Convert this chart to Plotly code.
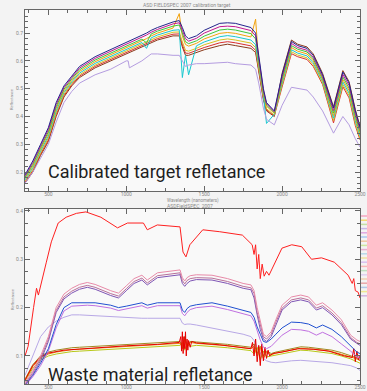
import plotly.graph_objects as go

# ---------------- Top panel: calibration target spectra ----------------
TOP_WL = [350, 400, 450, 500, 550, 600, 650, 700, 800, 900,
          1000, 1100, 1130, 1160, 1200, 1300, 1340, 1360, 1380, 1400,
          1450, 1500, 1600, 1650, 1700, 1800, 1830, 1850, 1880, 1900,
          1950, 2000, 2060, 2100, 2160, 2200, 2260, 2330, 2390, 2430,
          2470, 2500]

top_navy = [0.19, 0.24, 0.30, 0.36, 0.45, 0.51, 0.545, 0.58, 0.615, 0.64,
            0.665, 0.69, 0.70, 0.71, 0.72, 0.74, 0.745, 0.72, 0.69, 0.68,
            0.69, 0.71, 0.735, 0.737, 0.735, 0.72, 0.70, 0.62, 0.50, 0.45,
            0.42, 0.55, 0.67, 0.655, 0.645, 0.62, 0.55, 0.43, 0.56, 0.52,
            0.42, 0.36]
top_magenta = [0.186, 0.234, 0.294, 0.353, 0.443, 0.504, 0.540, 0.574, 0.609, 0.634,
               0.659, 0.684, 0.693, 0.703, 0.713, 0.733, 0.737, 0.71, 0.68, 0.671,
               0.681, 0.70, 0.723, 0.725, 0.723, 0.709, 0.69, 0.611, 0.494, 0.446,
               0.417, 0.543, 0.663, 0.648, 0.638, 0.613, 0.544, 0.421, 0.551, 0.511,
               0.411, 0.353]
top_green = [0.181, 0.228, 0.288, 0.345, 0.435, 0.498, 0.535, 0.568, 0.603, 0.628,
             0.653, 0.678, 0.665, 0.697, 0.707, 0.725, 0.729, 0.699, 0.669, 0.662,
             0.672, 0.689, 0.711, 0.714, 0.711, 0.698, 0.679, 0.602, 0.488, 0.441,
             0.414, 0.535, 0.655, 0.642, 0.632, 0.607, 0.538, 0.412, 0.542, 0.502,
             0.402, 0.345]
top_orange = [0.177, 0.222, 0.282, 0.338, 0.428, 0.492, 0.529, 0.562, 0.597, 0.622,
              0.647, 0.672, 0.680, 0.690, 0.700, 0.718, 0.77, 0.689, 0.659, 0.653,
              0.663, 0.679, 0.699, 0.702, 0.699, 0.686, 0.75, 0.593, 0.482, 0.437,
              0.411, 0.528, 0.648, 0.635, 0.625, 0.600, 0.532, 0.403, 0.533, 0.493,
              0.393, 0.338]
top_cyan = [0.172, 0.216, 0.276, 0.33, 0.42, 0.486, 0.524, 0.556, 0.591, 0.616,
            0.641, 0.666, 0.645, 0.683, 0.693, 0.71, 0.712, 0.54, 0.62, 0.55,
            0.654, 0.668, 0.687, 0.691, 0.687, 0.675, 0.658, 0.584, 0.476, 0.375,
            0.408, 0.52, 0.64, 0.628, 0.618, 0.593, 0.526, 0.394, 0.524, 0.484,
            0.384, 0.33]
top_gold = [0.168, 0.21, 0.27, 0.323, 0.413, 0.48, 0.519, 0.55, 0.585, 0.61,
            0.635, 0.66, 0.666, 0.676, 0.686, 0.703, 0.704, 0.668, 0.638, 0.635,
            0.645, 0.658, 0.675, 0.679, 0.675, 0.664, 0.648, 0.575, 0.47, 0.428,
            0.405, 0.513, 0.633, 0.621, 0.611, 0.586, 0.52, 0.385, 0.515, 0.475,
            0.375, 0.323]
top_red = [0.164, 0.205, 0.265, 0.316, 0.406, 0.475, 0.514, 0.545, 0.58, 0.605,
           0.63, 0.655, 0.66, 0.67, 0.68, 0.696, 0.697, 0.658, 0.628, 0.627,
           0.637, 0.648, 0.665, 0.669, 0.665, 0.654, 0.638, 0.567, 0.465, 0.424,
           0.402, 0.506, 0.626, 0.615, 0.605, 0.58, 0.515, 0.377, 0.507, 0.467,
           0.367, 0.316]
top_brown = [0.16, 0.20, 0.26, 0.31, 0.40, 0.47, 0.51, 0.54, 0.575, 0.60,
             0.625, 0.65, 0.655, 0.665, 0.675, 0.69, 0.69, 0.65, 0.62, 0.62,
             0.63, 0.64, 0.655, 0.66, 0.655, 0.645, 0.63, 0.56, 0.46, 0.42,
             0.40, 0.555, 0.675, 0.66, 0.65, 0.625, 0.555, 0.435, 0.565, 0.525,
             0.425, 0.365]

TOP_LAV_WL = [350, 400, 450, 500, 550, 600, 650, 700, 800, 900,
              1000, 1012, 1020, 1050, 1100, 1160, 1200, 1300, 1340, 1360,
              1380, 1400, 1450, 1500, 1600, 1650, 1700, 1800, 1830, 1850,
              1880, 1900, 1950, 2000, 2060, 2100, 2160, 2200, 2260, 2330,
              2390, 2430, 2470, 2500]
top_lavender = [0.16, 0.20, 0.25, 0.30, 0.38, 0.45, 0.49, 0.52, 0.55, 0.57,
                0.60, 0.60, 0.575, 0.585, 0.60, 0.625, 0.625, 0.62, 0.62, 0.60,
                0.58, 0.585, 0.59, 0.59, 0.595, 0.595, 0.59, 0.585, 0.57, 0.52,
                0.43, 0.39, 0.37, 0.44, 0.505, 0.50, 0.495, 0.47, 0.42, 0.34,
                0.40, 0.37, 0.32, 0.29]

# ---------------- Bottom panel: waste material spectra ----------------
R1_WL = [350, 370, 405, 424, 436, 455, 487, 519, 563, 614,
         680, 741, 837, 944, 1008, 1110, 1135, 1199, 1300, 1345,
         1364, 1383, 1408, 1491, 1600, 1745, 1808, 1820, 1830, 1840,
         1850, 1860, 1872, 1885, 1900, 1916, 1999, 2062, 2126, 2189,
         2253, 2335, 2424, 2450, 2460, 2470, 2488, 2500]
bot_red_top = [0.10, 0.12, 0.20, 0.24, 0.226, 0.253, 0.294, 0.336, 0.375, 0.387,
               0.395, 0.398, 0.387, 0.365, 0.375, 0.375, 0.361, 0.371, 0.369, 0.367,
               0.315, 0.305, 0.33, 0.361, 0.357, 0.35, 0.33, 0.31, 0.33, 0.28,
               0.31, 0.26, 0.29, 0.265, 0.275, 0.267, 0.323, 0.33, 0.326, 0.30,
               0.303, 0.294, 0.267, 0.25, 0.26, 0.235, 0.232, 0.22]

BOT_WL = [350, 400, 450, 500, 550, 600, 650, 700, 750, 800,
          900, 950, 1000, 1050, 1100, 1135, 1200, 1300, 1345, 1360,
          1375, 1390, 1410, 1450, 1550, 1650, 1750, 1800, 1820, 1840,
          1860, 1880, 1900, 1930, 1960, 2000, 2060, 2120, 2170, 2220,
          2260, 2320, 2380, 2440, 2480, 2500]
bot_pink = [0.045, 0.07, 0.10, 0.14, 0.20, 0.228, 0.24, 0.248, 0.252, 0.248,
            0.235, 0.23, 0.245, 0.26, 0.267, 0.257, 0.272, 0.276, 0.278, 0.262,
            0.255, 0.262, 0.266, 0.268, 0.267, 0.26, 0.25, 0.247, 0.235, 0.20,
            0.17, 0.145, 0.14, 0.15, 0.175, 0.205, 0.222, 0.226, 0.222, 0.205,
            0.21, 0.195, 0.175, 0.143, 0.133, 0.13]
bot_mauve = [0.042, 0.066, 0.095, 0.135, 0.194, 0.222, 0.234, 0.242, 0.246, 0.242,
             0.229, 0.224, 0.239, 0.254, 0.261, 0.251, 0.266, 0.27, 0.272, 0.256,
             0.249, 0.256, 0.26, 0.262, 0.261, 0.254, 0.244, 0.241, 0.229, 0.19,
             0.163, 0.14, 0.135, 0.145, 0.17, 0.199, 0.216, 0.22, 0.216, 0.199,
             0.204, 0.189, 0.169, 0.138, 0.128, 0.125]
bot_purple = [0.04, 0.062, 0.09, 0.13, 0.19, 0.218, 0.23, 0.238, 0.242, 0.238,
              0.225, 0.22, 0.235, 0.25, 0.257, 0.247, 0.262, 0.266, 0.268, 0.25,
              0.244, 0.25, 0.255, 0.258, 0.257, 0.25, 0.24, 0.237, 0.22, 0.185,
              0.155, 0.135, 0.13, 0.14, 0.165, 0.195, 0.212, 0.216, 0.212, 0.195,
              0.2, 0.185, 0.165, 0.135, 0.126, 0.122]
bot_blue = [0.04, 0.06, 0.085, 0.115, 0.165, 0.2, 0.21, 0.21, 0.211, 0.21,
            0.205, 0.2, 0.203, 0.207, 0.21, 0.205, 0.21, 0.21, 0.21, 0.195,
            0.19, 0.198, 0.203, 0.206, 0.21, 0.203, 0.195, 0.19, 0.18, 0.16,
            0.145, 0.13, 0.128, 0.135, 0.145, 0.158, 0.17, 0.169, 0.166, 0.158,
            0.164, 0.155, 0.14, 0.122, 0.108, 0.105]
bot_violet = [0.038, 0.057, 0.08, 0.11, 0.158, 0.193, 0.203, 0.204, 0.205, 0.204,
              0.199, 0.194, 0.197, 0.201, 0.204, 0.199, 0.204, 0.204, 0.204, 0.188,
              0.183, 0.19, 0.196, 0.2, 0.203, 0.196, 0.188, 0.183, 0.172, 0.15,
              0.133, 0.118, 0.115, 0.12, 0.13, 0.143, 0.155, 0.154, 0.151, 0.143,
              0.149, 0.14, 0.125, 0.11, 0.098, 0.095]
bot_lavender = [0.06, 0.10, 0.14, 0.16, 0.172, 0.18, 0.185, 0.185, 0.184, 0.183,
                0.181, 0.18, 0.18, 0.179, 0.178, 0.178, 0.178, 0.178, 0.178, 0.168,
                0.165, 0.166, 0.166, 0.164, 0.158, 0.152, 0.145, 0.14, 0.132, 0.118,
                0.105, 0.095, 0.09, 0.087, 0.086, 0.088, 0.09, 0.091, 0.09, 0.088,
                0.088, 0.086, 0.083, 0.08, 0.075, 0.07]
bot_orange = [0.05, 0.078, 0.096, 0.104, 0.108, 0.111, 0.113, 0.114, 0.115, 0.116,
              0.118, 0.119, 0.12, 0.121, 0.122, 0.122, 0.123, 0.125, 0.126, 0.12,
              0.135, 0.118, 0.128, 0.126, 0.124, 0.121, 0.117, 0.115, 0.12, 0.1,
              0.118, 0.095, 0.108, 0.102, 0.106, 0.108, 0.112, 0.116, 0.115, 0.113,
              0.112, 0.109, 0.104, 0.098, 0.094, 0.09]
bot_yellowgreen = [0.048, 0.074, 0.092, 0.1, 0.104, 0.107, 0.109, 0.11, 0.111, 0.112,
                   0.114, 0.115, 0.116, 0.117, 0.118, 0.118, 0.119, 0.121, 0.122, 0.128,
                   0.112, 0.125, 0.12, 0.122, 0.12, 0.117, 0.113, 0.111, 0.104, 0.118,
                   0.092, 0.11, 0.098, 0.1, 0.102, 0.104, 0.108, 0.112, 0.111, 0.109,
                   0.108, 0.105, 0.1, 0.094, 0.088, 0.085]
bot_olive = [0.052, 0.082, 0.1, 0.108, 0.112, 0.115, 0.117, 0.118, 0.119, 0.12,
             0.122, 0.123, 0.124, 0.125, 0.126, 0.126, 0.127, 0.129, 0.13, 0.115,
             0.14, 0.122, 0.13, 0.129, 0.127, 0.124, 0.12, 0.118, 0.125, 0.105,
             0.12, 0.1, 0.11, 0.105, 0.108, 0.111, 0.115, 0.119, 0.118, 0.116,
             0.115, 0.112, 0.107, 0.101, 0.096, 0.093]

R2_WL = [350, 400, 450, 500, 600, 800, 1000, 1200, 1300, 1340,
         1350, 1355, 1360, 1365, 1370, 1375, 1380, 1385, 1390, 1395,
         1400, 1410, 1420, 1450, 1600, 1750, 1800, 1810, 1820, 1830,
         1840, 1850, 1860, 1870, 1880, 1890, 1900, 1910, 1920, 1940,
         1960, 2000, 2100, 2200, 2300, 2400, 2450, 2460, 2470, 2480,
         2490, 2500]
bot_red_low = [0.05, 0.08, 0.098, 0.106, 0.112, 0.117, 0.121, 0.124, 0.126, 0.128,
               0.14, 0.11, 0.15, 0.105, 0.14, 0.115, 0.15, 0.1, 0.135, 0.112,
               0.132, 0.118, 0.13, 0.127, 0.123, 0.117, 0.115, 0.128, 0.1, 0.135,
               0.088, 0.122, 0.08, 0.125, 0.09, 0.118, 0.095, 0.112, 0.1, 0.105,
               0.106, 0.108, 0.115, 0.114, 0.11, 0.1, 0.097, 0.115, 0.088, 0.11,
               0.092, 0.1]

X_TICKS = [500, 1000, 1500, 2000, 2500]

fig = go.Figure()

top_series = [
    ("brown", TOP_WL, top_brown, "#8a3a1a"),
    ("red", TOP_WL, top_red, "#d83030"),
    ("gold", TOP_WL, top_gold, "#d8c020"),
    ("cyan", TOP_WL, top_cyan, "#18c8d0"),
    ("orange", TOP_WL, top_orange, "#f2a20c"),
    ("green", TOP_WL, top_green, "#3cc83c"),
    ("magenta", TOP_WL, top_magenta, "#c2188f"),
    ("navy", TOP_WL, top_navy, "#24248c"),
    ("lavender", TOP_LAV_WL, top_lavender, "#b49ce0"),
]
for name, xs, ys, col in top_series:
    fig.add_trace(go.Scatter(x=xs, y=ys, mode="lines", name=name,
                             line=dict(color=col, width=1), showlegend=False,
                             xaxis="x", yaxis="y"))

bot_series = [
    ("lavender", BOT_WL, bot_lavender, "#b8a8e6"),
    ("olive", BOT_WL, bot_olive, "#a08a20"),
    ("yellowgreen", BOT_WL, bot_yellowgreen, "#b8c818"),
    ("orange", BOT_WL, bot_orange, "#e88a10"),
    ("red_low", R2_WL, bot_red_low, "#e80000"),
    ("violet", BOT_WL, bot_violet, "#c070e0"),
    ("blue", BOT_WL, bot_blue, "#2050d0"),
    ("purple", BOT_WL, bot_purple, "#7f55b5"),
    ("mauve", BOT_WL, bot_mauve, "#b8709a"),
    ("pink", BOT_WL, bot_pink, "#e88aa8"),
    ("red_top", R1_WL, bot_red_top, "#ff2020"),
]
for name, xs, ys, col in bot_series:
    fig.add_trace(go.Scatter(x=xs, y=ys, mode="lines", name=name,
                             line=dict(color=col, width=1), showlegend=False,
                             xaxis="x2", yaxis="y2"))

# plot area geometry (pixels): left 25, right 360, top 10, bottom 384
BOTTOM_PX = 384.0
AREA_H = BOTTOM_PX - 10.0

def py(p):
    return (BOTTOM_PX - p) / AREA_H

def px(p):
    return (p - 25) / 335.0

axis_common = dict(showline=True, linecolor="#666", linewidth=1, mirror="ticks",
                   ticks="inside", ticklen=5, tickwidth=1, tickcolor="#666",
                   showgrid=False, zeroline=False,
                   tickfont=dict(size=5, color="#888", family="Roboto"))

fig.update_layout(
    width=367, height=391,
    margin=dict(l=25, r=7, t=10, b=391 - int(BOTTOM_PX), autoexpand=False),
    paper_bgcolor="#f3f3f3", plot_bgcolor="#f9f9f9",
    showlegend=False,
    xaxis=dict(domain=[0, 1], anchor="y", range=[350, 2500], tickvals=X_TICKS,
               ticklabelstandoff=-2,
               minor=dict(dtick=125, ticklen=3, tickcolor="#666", ticks="inside"),
               **axis_common),
    yaxis=dict(domain=[py(191), 1.0], anchor="x", range=[0.132, 0.783], dtick=0.1,
               tick0=0.0, tickformat=".1f",
               minor=dict(dtick=0.02, ticklen=3, tickcolor="#666", ticks="inside"),
               **axis_common),
    xaxis2=dict(domain=[0, 1], anchor="y2", range=[350, 2500], tickvals=X_TICKS,
                ticklabelstandoff=-2,
                minor=dict(dtick=125, ticklen=3, tickcolor="#666", ticks="inside"),
                **axis_common),
    yaxis2=dict(domain=[0, py(209)], anchor="x2", range=[0.042, 0.404], dtick=0.1,
                tick0=0.0, tickformat=".1f",
                minor=dict(dtick=0.025, ticklen=3, tickcolor="#666", ticks="inside"),
                **axis_common),
)

small = dict(family="Roboto", color="#8a8a8a")
annotations = [
    dict(text="ASD FIELDSPEC 2007 calibration target", x=px(187), y=py(5),
         font=dict(size=5, **small)),
    dict(text="Wavelength (nanometers)", x=px(193), y=py(200),
         font=dict(size=4.5, **small)),
    dict(text="ASDFieldSPEC_2007", x=px(190), y=py(205.5),
         font=dict(size=5, **small)),
    dict(text="Reflectance", x=px(12), y=py(100), textangle=-90,
         font=dict(size=4, **small)),
    dict(text="Reflectance", x=px(12), y=py(300), textangle=-90,
         font=dict(size=4, **small)),
    dict(text="Calibrated target refletance", x=px(46), y=py(172), xanchor="left",
         font=dict(size=18, family="Roboto", color="#1e1e1e")),
    dict(text="Waste material refletance", x=px(46), y=py(374), xanchor="left",
         font=dict(size=18, family="Roboto", color="#1e1e1e")),
]
for a in annotations:
    a.update(xref="paper", yref="paper", showarrow=False)
    a.setdefault("xanchor", "center")
    a.setdefault("yanchor", "middle")
fig.update_layout(annotations=annotations)

# clipped legend swatches at the right edge of the lower panel
LEGEND_COLORS = ["#f4a6c0", "#f5d76e", "#c5e0a5", "#c8b8e8", "#e0a8e0", "#a8c8f0",
                 "#f0c8a0", "#d0e8a0", "#e8b0d0", "#b8d8e8", "#f0e0a0", "#d8c0f0",
                 "#f8b8b8", "#c0e0c0", "#e0d0f0", "#f0d0b0", "#e8a8a8", "#b0c8e8",
                 "#f0e890", "#d0b0e0"]
shapes = []
for i, c in enumerate(LEGEND_COLORS):
    yy = py(216 + i * 4.2)
    shapes.append(dict(type="line", xref="paper", yref="paper",
                       x0=px(361), x1=px(367), y0=yy, y1=yy,
                       line=dict(color=c, width=1.5)))
fig.update_layout(shapes=shapes)

fig.write_html("out.html")
